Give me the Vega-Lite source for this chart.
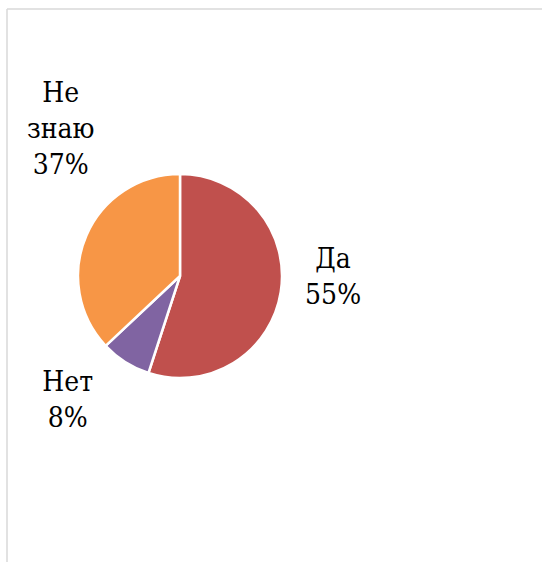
{
  "$schema": "https://vega.github.io/schema/vega-lite/v6.json",
  "width": 346,
  "height": 534,
  "autosize": {"type": "none"},
  "padding": {"left": 7, "top": 9, "right": 189, "bottom": 19},
  "background": "white",
  "config": {"view": {"stroke": null}},
  "data": {
    "values": [
      {"answer": "Да", "share": 55, "order": 1, "label": "Да\n55%"},
      {"answer": "Нет", "share": 8, "order": 2, "label": "Нет\n8%"},
      {"answer": "Не знаю", "share": 37, "order": 3, "label": "Не\nзнаю\n37%"}
    ]
  },
  "encoding": {
    "theta": {"field": "share", "type": "quantitative", "stack": true},
    "order": {"field": "order", "type": "quantitative"}
  },
  "layer": [
    {
      "mark": {"type": "rule", "color": "#d9d9d9", "strokeWidth": 1.5, "clip": false},
      "data": {"values": [{"k": 1}]},
      "encoding": {
        "theta": null, "order": null,
        "x": {"value": 0}, "x2": {"value": 545}, "y": {"value": 0}
      }
    },
    {
      "mark": {"type": "rule", "color": "#d9d9d9", "strokeWidth": 1.5, "clip": false},
      "data": {"values": [{"k": 1}]},
      "encoding": {
        "theta": null, "order": null,
        "x": {"value": 0}, "y": {"value": 0}, "y2": {"value": 560}
      }
    },
    {
      "mark": {"type": "arc", "radius": 102, "stroke": "white", "strokeWidth": 2.5},
      "encoding": {
        "color": {
          "field": "answer", "type": "nominal",
          "scale": {"domain": ["Да", "Нет", "Не знаю"], "range": ["#C0504D", "#8064A2", "#F79646"]},
          "legend": null
        }
      }
    },
    {
      "mark": {"type": "text", "radius": 155, "dy": -40, "font": "DejaVu Serif Condensed", "fontSize": 28, "lineHeight": 36, "lineBreak": "\n", "color": "black", "align": "center", "baseline": "middle"},
      "encoding": {
        "text": {"condition": {"test": "datum.answer === 'Да'", "field": "label"}, "value": ""}
      }
    },
    {
      "mark": {"type": "text", "radius": 148, "dx": -33, "dy": -18, "font": "DejaVu Serif Condensed", "fontSize": 28, "lineHeight": 36, "lineBreak": "\n", "color": "black", "align": "center", "baseline": "middle"},
      "encoding": {
        "text": {"condition": {"test": "datum.answer === 'Нет'", "field": "label"}, "value": ""}
      }
    },
    {
      "mark": {"type": "text", "radius": 130, "dy": -130, "font": "DejaVu Serif Condensed", "fontSize": 28, "lineHeight": 36, "lineBreak": "\n", "color": "black", "align": "center", "baseline": "middle"},
      "encoding": {
        "text": {"condition": {"test": "datum.answer === 'Не знаю'", "field": "label"}, "value": ""}
      }
    }
  ]
}
